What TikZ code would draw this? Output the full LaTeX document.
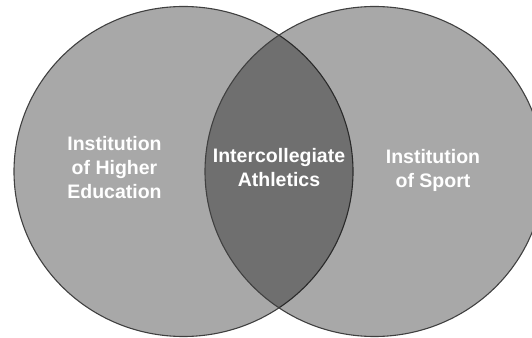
\documentclass[tikz,border=0pt]{standalone}
\usepackage{fontspec}
\setmainfont{Liberation Sans}
\usetikzlibrary{shapes.geometric}
\definecolor{rimgray}{RGB}{64,64,64}
\tikzstyle{setcircle} = [draw=rimgray, line width=1.1pt, fill=black, fill opacity=0.34, ellipse, minimum width=339pt, minimum height=330pt, inner sep=0pt]
\tikzstyle{setlabel} = [text=white, align=center, inner sep=0pt, font=\bfseries\fontsize{19.5}{24}\selectfont]

\begin{document}
\begin{tikzpicture}[x=1pt, y=1pt]
    % fixed frame, the right circle runs past its edge
    \useasboundingbox (0,0) rectangle (532,337);
    \clip (0,0) rectangle (532,337);

    % the two sets, the overlap comes out darker by itself
    \node [setcircle] (higher) at (183.5,165.5) {};
    \node [setcircle] (sport) at (374.5,165.5) {};

    \node [setlabel] (highertext) at (114.5,169) {Institution\\of Higher\\Education};
    \node [setlabel] (bothtext) at (279,169) {Intercollegiate\\Athletics};
    \node [setlabel] (sporttext) at (433,167) {Institution\\of Sport};
\end{tikzpicture}
\end{document}
